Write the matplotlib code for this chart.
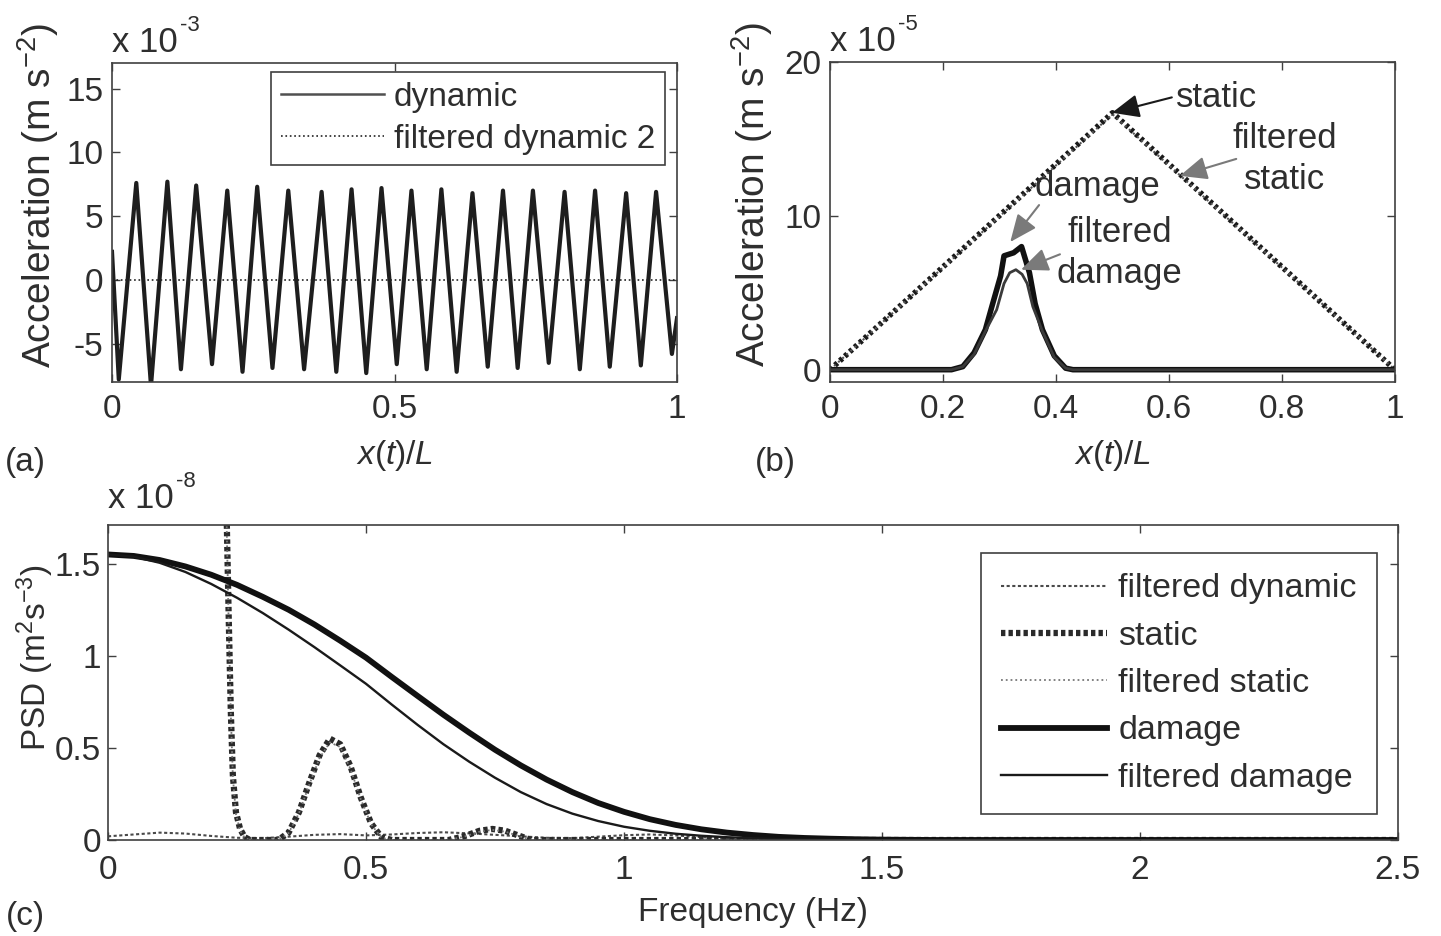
import matplotlib
matplotlib.use("Agg")
import matplotlib.pyplot as plt
import matplotlib.transforms as mtransforms
from matplotlib.ticker import FuncFormatter

# ---------------- data ----------------
# (a) dynamic acceleration (x 1e-3 m/s^2) along the beam, turning points of the trace
pos_dyn = [0.000, 0.012, 0.043, 0.069, 0.098, 0.122, 0.149, 0.177, 0.204, 0.231,
           0.257, 0.284, 0.312, 0.340, 0.371, 0.397, 0.424, 0.450, 0.477, 0.504,
           0.530, 0.557, 0.583, 0.610, 0.638, 0.665, 0.692, 0.718, 0.745, 0.773,
           0.801, 0.828, 0.855, 0.881, 0.910, 0.936, 0.963, 0.991, 1.000]
acc_dyn = [2.2, -7.8, 7.6, -8.3, 7.7, -7.0, 7.4, -6.6, 7.0, -7.2,
           7.3, -6.9, 7.0, -7.0, 6.9, -7.2, 7.1, -7.3, 7.2, -6.6,
           7.0, -7.0, 7.1, -7.2, 6.8, -6.8, 7.0, -6.9, 7.0, -6.5,
           6.9, -7.0, 7.0, -6.8, 6.8, -6.7, 6.9, -5.8, -3.0]
pos_fdyn2 = [0.0, 1.0]
acc_fdyn2 = [0.0, 0.0]

# (b) static and damage components (x 1e-5 m/s^2)
pos_static = [0.0, 0.5, 1.0]
acc_static = [0.0, 16.7, 0.0]
acc_fstatic = [0.0, 16.6, 0.0]
pos_dmg = [0.0, 0.215, 0.235, 0.255, 0.275, 0.288, 0.302, 0.308, 0.325, 0.339,
           0.353, 0.363, 0.376, 0.397, 0.417, 0.430, 1.0]
acc_dmg = [0.0, 0.0, 0.2, 1.1, 2.6, 4.3, 6.1, 7.4, 7.6, 8.0,
           6.3, 4.3, 2.6, 0.9, 0.1, 0.0, 0.0]
pos_fdmg = [0.0, 0.215, 0.235, 0.255, 0.275, 0.295, 0.308, 0.318, 0.329, 0.340,
            0.349, 0.359, 0.376, 0.397, 0.417, 0.430, 1.0]
acc_fdmg = [0.0, 0.0, 0.2, 1.0, 2.5, 3.9, 5.6, 6.3, 6.5, 6.2,
            5.6, 4.1, 2.5, 0.8, 0.1, 0.0, 0.0]

# (c) power spectral densities (x 1e-8 m^2 s^-3)
freq_fdyn = [0.00, 0.05, 0.10, 0.15, 0.20, 0.25, 0.30, 0.35, 0.40, 0.45,
             0.50, 0.55, 0.60, 0.65, 0.70, 0.75, 0.80, 0.85, 0.90, 0.95,
             1.00, 1.05, 1.10, 1.15, 1.20, 1.25, 1.30, 2.50]
psd_fdyn = [0.020, 0.030, 0.040, 0.035, 0.022, 0.012, 0.010, 0.018, 0.028, 0.032,
            0.025, 0.030, 0.038, 0.042, 0.036, 0.028, 0.020, 0.012, 0.010, 0.018,
            0.026, 0.030, 0.025, 0.015, 0.008, 0.004, 0.000, 0.000]

freq_static = [0.218, 0.222, 0.226, 0.230, 0.234, 0.238, 0.242, 0.248, 0.256, 0.265,
               0.275, 0.330, 0.350, 0.370, 0.390, 0.410, 0.430, 0.450, 0.470, 0.490,
               0.510, 0.530, 0.550, 0.660, 0.690, 0.720, 0.745, 0.770, 0.800, 0.820,
               2.500]
psd_static = [4.40, 3.40, 2.50, 1.75, 1.20, 0.70, 0.35, 0.15, 0.06, 0.015,
              0.000, 0.000, 0.040, 0.150, 0.310, 0.460, 0.550, 0.520, 0.400, 0.230,
              0.090, 0.015, 0.000, 0.000, 0.020, 0.050, 0.060, 0.050, 0.020, 0.000,
              0.000]
psd_fstatic = [4.30, 3.30, 2.45, 1.70, 1.16, 0.68, 0.34, 0.14, 0.05, 0.012,
               0.000, 0.000, 0.038, 0.145, 0.300, 0.445, 0.530, 0.505, 0.385, 0.220,
               0.085, 0.012, 0.000, 0.000, 0.018, 0.045, 0.055, 0.045, 0.018, 0.000,
               0.000]

freq_dmg = [0.00, 0.05, 0.10, 0.15, 0.20, 0.25, 0.30, 0.35, 0.40, 0.45,
            0.50, 0.55, 0.60, 0.65, 0.70, 0.75, 0.80, 0.85, 0.90, 0.95,
            1.00, 1.05, 1.10, 1.15, 1.20, 1.25, 1.30, 1.35, 1.40, 1.45,
            1.50, 1.55, 1.60, 2.50]
psd_dmg = [1.550, 1.542, 1.520, 1.485, 1.440, 1.385, 1.320, 1.250, 1.170, 1.082,
           0.990, 0.885, 0.782, 0.680, 0.583, 0.490, 0.405, 0.328, 0.260, 0.201,
           0.153, 0.113, 0.082, 0.058, 0.040, 0.027, 0.017, 0.011, 0.007, 0.004,
           0.002, 0.001, 0.000, 0.000]
psd_fdmg = [1.550, 1.538, 1.505, 1.455, 1.390, 1.315, 1.232, 1.142, 1.047, 0.948,
            0.848, 0.735, 0.625, 0.520, 0.425, 0.338, 0.260, 0.195, 0.143, 0.103,
            0.072, 0.050, 0.034, 0.023, 0.015, 0.009, 0.005, 0.003, 0.001, 0.000,
            0.000, 0.000, 0.000, 0.000]

# ---------------- style ----------------
TXT = "#2e2e2e"
AXC = "#404040"
FS = 24
plt.rcParams.update({
    "font.family": ["Liberation Sans", "DejaVu Sans"],
    "font.size": FS,
    "mathtext.fontset": "custom",
    "mathtext.rm": "Liberation Sans",
    "mathtext.it": "Liberation Sans:italic",
    "mathtext.default": "regular",
    "text.color": TXT,
    "axes.labelcolor": TXT,
    "xtick.color": AXC,
    "ytick.color": AXC,
    "xtick.labelcolor": TXT,
    "ytick.labelcolor": TXT,
    "axes.edgecolor": AXC,
    "axes.linewidth": 1.2,
})

fmt = FuncFormatter(lambda v, p: "%g" % v)


def style_axes(ax, xpad=9, ypad=6):
    ax.tick_params(direction="in", length=6, width=1.0, top=True, right=True,
                   labelsize=FS)
    ax.tick_params(axis="x", pad=xpad)
    ax.tick_params(axis="y", pad=ypad)
    ax.xaxis.set_major_formatter(fmt)
    ax.yaxis.set_major_formatter(fmt)


def scale_tag(ax, ybase, exponent):
    """MATLAB-style 'x 10^n' multiplier above the top-left corner."""
    ax.text(0.0, ybase, "x 10", transform=ax.transAxes, ha="left",
            va="baseline", fontsize=25)
    tr = mtransforms.offset_copy(ax.transAxes, fig=fig, x=49, y=15,
                                 units="points")
    ax.text(0.0, ybase, exponent, transform=tr, ha="left", va="baseline",
            fontsize=16)


fig = plt.figure(figsize=(14.41, 9.36), dpi=100)

# ---------------- (a) ----------------
ax_a = fig.add_axes([112 / 1441, (936 - 382) / 936, 565 / 1441, 319 / 936])
ax_a.plot(pos_dyn, acc_dyn, color="#1e1e1e", lw=3.0, label="dynamic")
ax_a.plot(pos_fdyn2, acc_fdyn2, color="#222222", lw=1.2, ls=":",
          label="filtered dynamic 2")
ax_a.set_xlim(0, 1)
ax_a.set_ylim(-8, 17)
ax_a.set_xticks([0, 0.5, 1])
ax_a.set_yticks([-5, 0, 5, 10, 15])
style_axes(ax_a)
ax_a.set_xlabel(r"$\it{x(t)/L}$", va="center")
ax_a.xaxis.set_label_coords(0.5, -0.229)
ax_a.set_ylabel(r"Acceleration (m s$^{-2}$)", va="center", fontsize=28)
ax_a.yaxis.set_label_coords(-0.131, 0.586)
scale_tag(ax_a, 1.035, "-3")
leg_a = ax_a.legend(loc="upper right", bbox_to_anchor=(0.979, 0.972),
                    borderaxespad=0, fancybox=False, framealpha=1,
                    edgecolor=AXC, handlelength=3.1, handletextpad=0.3,
                    labelspacing=0.33, borderpad=0.3, fontsize=FS)
leg_a.get_frame().set_linewidth(1.2)
leg_a.get_lines()[0].set_linewidth(1.8)
leg_a.get_lines()[0].set_color("#505050")

# ---------------- (b) ----------------
ax_b = fig.add_axes([830 / 1441, (936 - 382) / 936, 565 / 1441, 320 / 936])
ax_b.plot(pos_static, acc_static, color="#1a1a1a", lw=4, ls=(0, (0.6, 0.6)))
ax_b.plot(pos_static, acc_fstatic, color="#555555", lw=1.5, ls=":")
ax_b.plot(pos_dmg, acc_dmg, color="#111111", lw=4)
ax_b.plot(pos_fdmg, acc_fdmg, color="#3a3a3a", lw=2)
ax_b.set_xlim(0, 1)
ax_b.set_ylim(-0.8, 20)
ax_b.set_xticks([0, 0.2, 0.4, 0.6, 0.8, 1])
ax_b.set_yticks([0, 10, 20])
style_axes(ax_b)
ax_b.set_xlabel(r"$\it{x(t)/L}$", va="center")
ax_b.xaxis.set_label_coords(0.5, -0.229)
ax_b.set_ylabel(r"Acceleration (m s$^{-2}$)", va="center", fontsize=28)
ax_b.yaxis.set_label_coords(-0.138, 0.586)
scale_tag(ax_b, 1.035, "-5")

arrow_kw = dict(arrowstyle="-|>,head_length=0.7,head_width=0.3",
                shrinkA=0, shrinkB=0, lw=1.5)
ax_b.annotate("", xy=(0.499, 16.7), xytext=(0.605, 17.7),
              arrowprops=dict(color="#1a1a1a", **arrow_kw))
ax_b.text(0.613, 17.7, "static", ha="left", va="center", fontsize=25)
ax_b.annotate("", xy=(0.619, 12.6), xytext=(0.719, 13.7),
              arrowprops=dict(color="#7a7a7a", **arrow_kw))
ax_b.text(0.805, 13.7, "filtered\nstatic", ha="center", va="center",
          fontsize=25, linespacing=1.3)
ax_b.annotate("", xy=(0.319, 8.3), xytext=(0.37, 10.7),
              arrowprops=dict(color="#7a7a7a", **arrow_kw))
ax_b.text(0.474, 11.9, "damage", ha="center", va="center", fontsize=25)
ax_b.annotate("", xy=(0.338, 6.5), xytext=(0.407, 7.5),
              arrowprops=dict(color="#7a7a7a", **arrow_kw))
ax_b.text(0.513, 7.6, "filtered\ndamage", ha="center", va="center",
          fontsize=25, linespacing=1.3)

# ---------------- (c) ----------------
ax_c = fig.add_axes([108 / 1441, (936 - 840) / 936, 1290 / 1441, 315 / 936])
ax_c.plot(freq_fdyn, psd_fdyn, color="#4a4a4a", lw=1.5, ls=(0, (1.5, 1.2)),
          label="filtered dynamic")
ax_c.plot(freq_static, psd_static, color="#2a2a2a", lw=4.5,
          ls=(0, (0.7, 0.5)), label="static")
ax_c.plot(freq_static, psd_fstatic, color="#777777", lw=1.3, ls=":",
          label="filtered static")
ax_c.plot(freq_dmg, psd_dmg, color="#111111", lw=4.2, label="damage")
ax_c.plot(freq_dmg, psd_fdmg, color="#1a1a1a", lw=1.7, label="filtered damage")
ax_c.set_xlim(0, 2.5)
ax_c.set_ylim(0, 1.71)
ax_c.set_xticks([0, 0.5, 1, 1.5, 2, 2.5])
ax_c.set_yticks([0, 0.5, 1, 1.5])
style_axes(ax_c, xpad=11, ypad=5)
ax_c.set_xlabel("Frequency (Hz)", va="center")
ax_c.xaxis.set_label_coords(0.5, -0.229)
ax_c.set_ylabel(r"PSD (m$^{2}$s$^{-3}$)", va="center")
ax_c.yaxis.set_label_coords(-0.0566, 0.58)
scale_tag(ax_c, 1.054, "-8")
leg_c = ax_c.legend(loc="upper right", bbox_to_anchor=(0.984, 0.911),
                    borderaxespad=0, fancybox=False, framealpha=1,
                    edgecolor=AXC, handlelength=3.1, handletextpad=0.35,
                    labelspacing=0.48, borderpad=0.6, fontsize=24.5)
leg_c.get_frame().set_linewidth(1.2)

# panel tags
fig.text(25 / 1441, 1 - 463 / 936, "(a)", ha="center", va="center", fontsize=FS)
fig.text(775 / 1441, 1 - 463 / 936, "(b)", ha="center", va="center", fontsize=FS)
fig.text(25 / 1441, 1 - 916 / 936, "(c)", ha="center", va="center", fontsize=FS)

fig.savefig("out.png", dpi=100)
